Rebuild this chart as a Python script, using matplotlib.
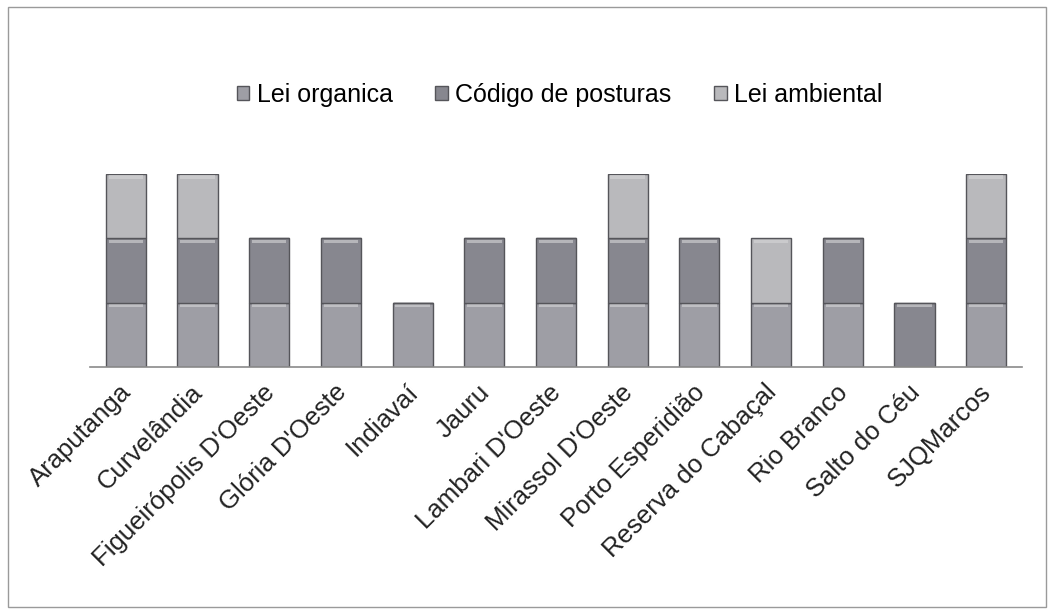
import numpy as np
import matplotlib
matplotlib.use("Agg")
import matplotlib.pyplot as plt
import matplotlib.transforms as mtransforms
from matplotlib.patches import Rectangle

plt.rcParams['font.family'] = ['Liberation Sans', 'DejaVu Sans']

municipios = ["Araputanga", "Curvelândia", "Figueirópolis D'Oeste", "Glória D'Oeste",
              "Indiavaí", "Jauru", "Lambari D'Oeste", "Mirassol D'Oeste",
              "Porto Esperidião", "Reserva do Cabaçal", "Rio Branco", "Salto do Céu",
              "SJQMarcos"]
lei_organica = [1, 1, 1, 1, 1, 1, 1, 1, 1, 1, 1, 0, 1]
codigo_posturas = [1, 1, 1, 1, 0, 1, 1, 1, 1, 0, 1, 1, 1]
lei_ambiental = [1, 1, 0, 0, 0, 0, 0, 1, 0, 1, 0, 0, 1]

series = [("Lei organica", lei_organica, "#9e9ea5"),
          ("Código de posturas", codigo_posturas, "#87878f"),
          ("Lei ambiental", lei_ambiental, "#b9b9bc")]

fig = plt.figure(figsize=(10.52, 6.13), dpi=100)
ax = fig.add_axes([90 / 1052, (613 - 367) / 613, (1022 - 90) / 1052, (367 - 174) / 613])

x = np.arange(len(municipios))
bottom = np.zeros(len(municipios))
for name, vals, col in series:
    vals = np.array(vals, dtype=float)
    ax.bar(x, vals, 0.56, bottom=bottom, color=col, edgecolor="#55555a",
           linewidth=1.0, label=name)
    # light bevel at top of each block
    ax.bar(x, np.where(vals > 0, 0.05, 0), 0.48, bottom=bottom + vals - 0.07,
           color="#d6d6d8", linewidth=0, alpha=0.6)
    bottom += vals

ax.set_xlim(-0.5, len(municipios) - 0.5)
ax.set_ylim(0, 3)
for s in ["top", "right", "left"]:
    ax.spines[s].set_visible(False)
ax.spines["bottom"].set_color("#8a8a8a")
ax.spines["bottom"].set_linewidth(1.2)
ax.set_yticks([])
ax.set_xticks(x)
ax.set_xticklabels(municipios, rotation=45, ha="right", rotation_mode="anchor",
                   fontsize=18.5, color="#222222")
ax.tick_params(axis="x", length=0, pad=8)
shift = mtransforms.ScaledTranslation(-7 / 100, -2 / 100, fig.dpi_scale_trans)
for lbl in ax.get_xticklabels():
    lbl.set_transform(lbl.get_transform() + shift)

handles, labels = ax.get_legend_handles_labels()
fig.legend(handles, labels, loc="center", bbox_to_anchor=(0.532, 0.845), ncol=3,
           frameon=False, fontsize=18, handlelength=0.5, handleheight=0.5,
           handletextpad=0.3, columnspacing=1.7)

fig.patches.append(Rectangle((8 / 1052, 6 / 613), 1038 / 1052, 600 / 613,
                             transform=fig.transFigure, fill=False,
                             edgecolor="#9a9a9a", linewidth=1.0))

fig.savefig("out.png", dpi=100, facecolor="white")
